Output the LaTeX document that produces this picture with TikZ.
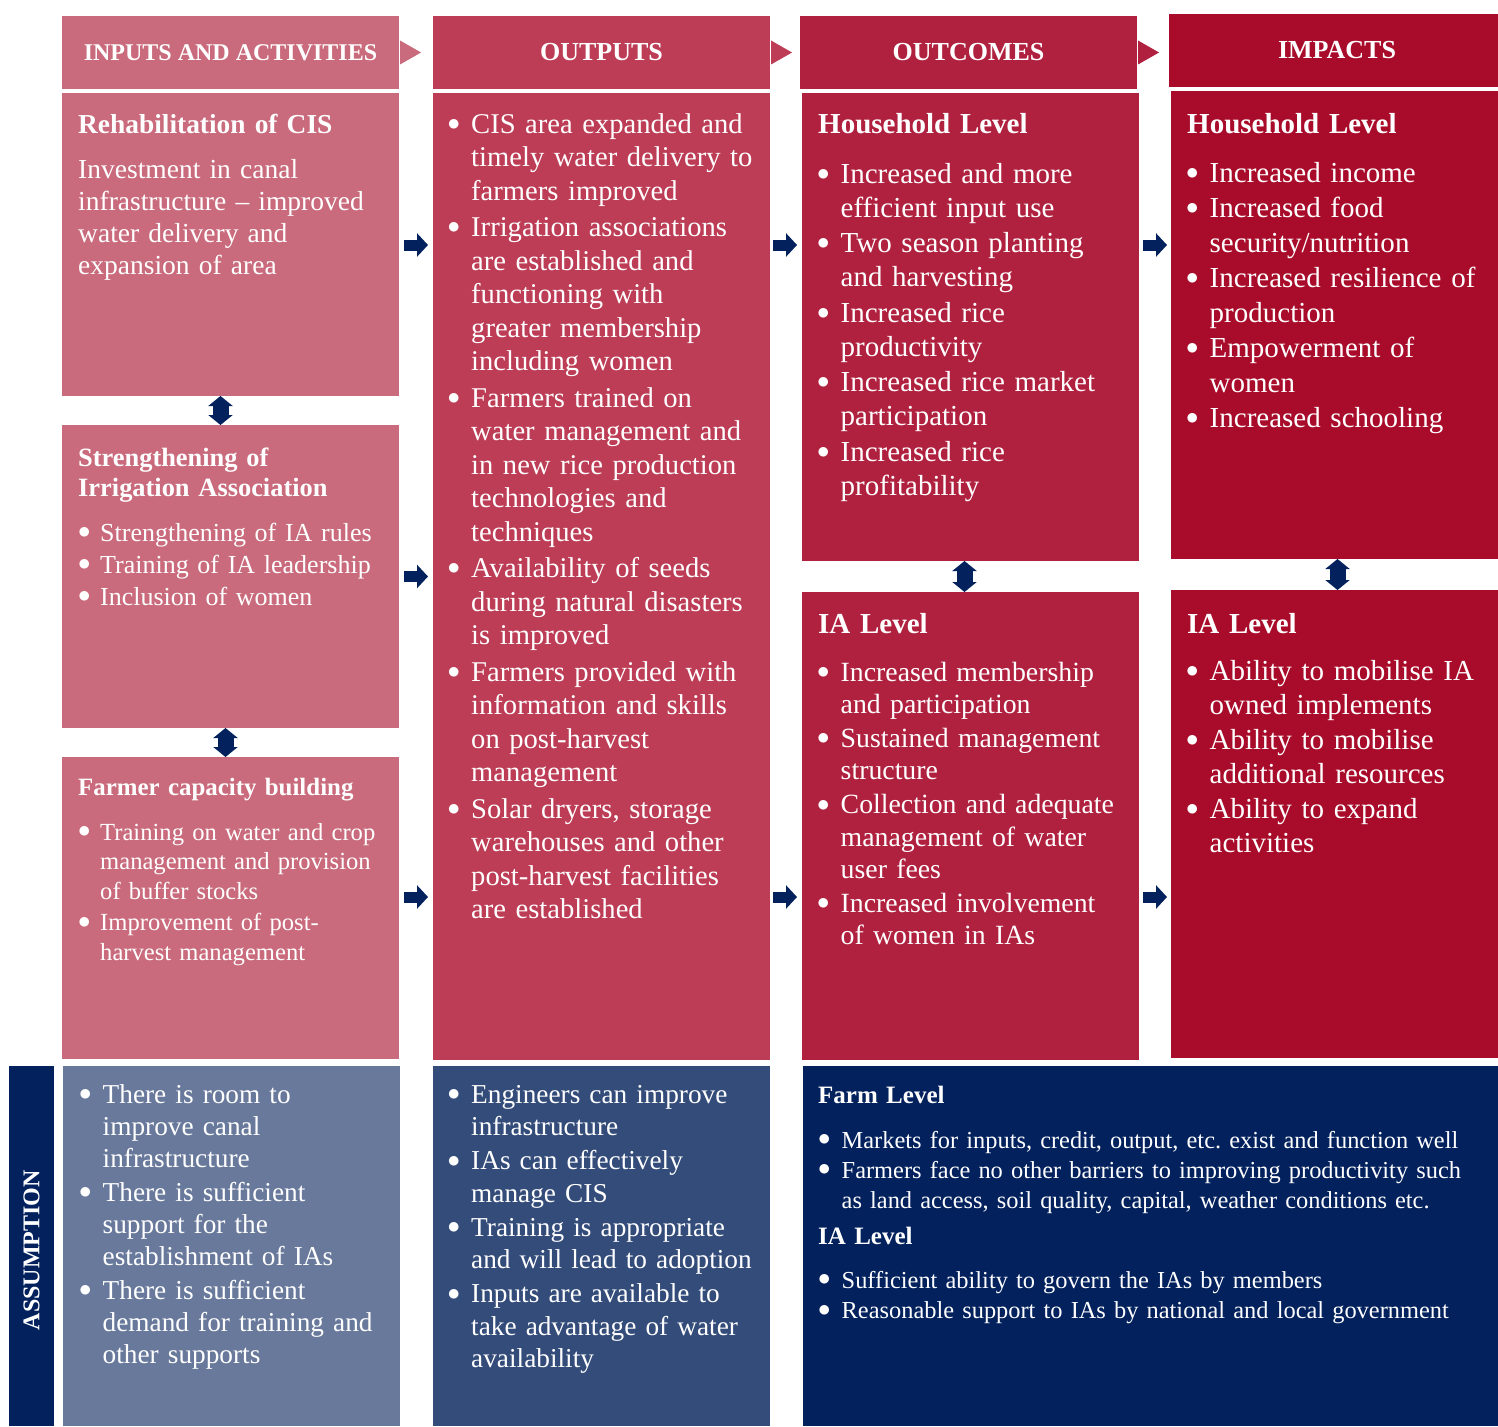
\documentclass[tikz,border=0pt]{standalone}
\usepackage{fontspec}
\setmainfont{Liberation Serif}
\usetikzlibrary{positioning,arrows.meta}

\definecolor{inrose}{RGB}{201,107,124}
\definecolor{outrose}{RGB}{188,61,85}
\definecolor{ocred}{RGB}{176,33,63}
\definecolor{imred}{RGB}{168,12,42}
\definecolor{navy}{RGB}{2,33,93}
\definecolor{asmone}{RGB}{104,121,155}
\definecolor{asmtwo}{RGB}{52,76,122}

\newlength{\bind}
\setlength{\bind}{23.5pt}
\newcommand{\bitem}[1]{\hangindent=\bind\hangafter=1\makebox[\bind][l]{\raisebox{0.09em}{$\bullet$}}#1\par}
\newcommand{\fsz}[2]{\fontsize{#1}{#2}\selectfont}
\frenchspacing

\begin{document}
\begin{tikzpicture}[x=1pt, y=-1pt, node distance=29pt]
\tikzstyle{colbox} = [rectangle, inner sep=0pt, outer sep=0pt, anchor=north west, minimum width=337pt]
\tikzstyle{hdr} = [colbox, minimum height=73pt, text=white, font=\bfseries\fsz{26}{30}]
\tikzstyle{lvlhead} = [anchor=base west, inner sep=0pt, text=white, align=left, text width=340pt, font=\bfseries\fsz{29}{33}]
\tikzstyle{bodytxt} = [anchor=base west, inner sep=0pt, text=white, align=left, text width=340pt]
\tikzstyle{rarrow} = [navy, line width=11pt, -{Triangle[width=23pt,length=11pt]}]
\tikzstyle{darrow} = [navy, line width=16pt, {Triangle[width=24pt,length=10pt]}-{Triangle[width=24pt,length=10pt]}]
\useasboundingbox (0,0) rectangle (1498,1426);

% column headers
\node (inhdr) [hdr, fill=inrose, font=\bfseries\fsz{24}{28}] at (62,16) {INPUTS AND ACTIVITIES};
\node (outhdr) [hdr, fill=outrose] at (433,16) {OUTPUTS};
\node (ochdr) [hdr, fill=ocred] at (800,16) {OUTCOMES};
\node (imhdr) [hdr, fill=imred, minimum width=329pt, text width=329pt, align=center] at (1169,14) {\hspace*{7pt}IMPACTS};
\fill[inrose] ([xshift=1pt]inhdr.east) ++(0,-12) -- ++(21,12) -- ++(-21,12) -- cycle;
\fill[outrose] ([xshift=1pt]outhdr.east) ++(0,-12) -- ++(21,12) -- ++(-21,12) -- cycle;
\fill[ocred] ([xshift=1pt]ochdr.east) ++(0,-12) -- ++(21,12) -- ++(-21,12) -- cycle;

% boxes
\node (rehab) [colbox, fill=inrose, minimum height=303pt] at (62,93) {};
\node (strength) [colbox, fill=inrose, minimum height=303pt, below=of rehab] {};
\node (farmer) [colbox, fill=inrose, minimum height=302pt, below=of strength] {};
\node (outputs) [colbox, fill=outrose, minimum height=967pt] at (433,93) {};
\node (hhout) [colbox, fill=ocred, minimum height=468pt] at (802,93) {};
\node (iaout) [colbox, fill=ocred, minimum height=468pt, below=31pt of hhout] {};
\node (hhimp) [colbox, fill=imred, minimum width=327pt, minimum height=468pt] at (1171,91) {};
\node (iaimp) [colbox, fill=imred, minimum width=327pt, minimum height=468pt, below=31pt of hhimp] {};
\node (asmlbl) [colbox, fill=navy, minimum width=45pt, minimum height=360pt] at (9,1066) {};
\node (asmin) [colbox, fill=asmone, minimum height=360pt] at (63,1066) {};
\node (asmout) [colbox, fill=asmtwo, minimum height=360pt] at (433,1066) {};
\node (asmoc) [colbox, fill=navy, minimum width=695pt, minimum height=360pt] at (803,1066) {};
\node (asmword) [rotate=90, text=white, font=\bfseries\fsz{24}{28}] at ([yshift=-4pt]asmlbl.center) {ASSUMPTION};

% inputs and activities
\node (rehabhd) [lvlhead, font=\bfseries\fsz{27.4}{32}] at ([shift={(16,40)}]rehab.north west) {Rehabilitation of CIS};
\node (rehabtx) [bodytxt, font=\fsz{27.5}{32}] at ([shift={(16,85)}]rehab.north west) {Investment in canal\newline infrastructure -- improved\newline water delivery and\newline expansion of area};
\node (strhd) [lvlhead, font=\bfseries\fsz{26.4}{30}] at ([shift={(16,41)}]strength.north west) {Strengthening of\\Irrigation Association};
\node (strlist) [bodytxt, font=\fsz{26}{32}] at ([shift={(16,116)}]strength.north west) {\setlength{\bind}{22pt}\bitem{Strengthening of IA rules}
\bitem{Training of IA leadership}
\bitem{Inclusion of women}};
\node (farmhd) [lvlhead, font=\bfseries\fsz{24.9}{29}] at ([shift={(16,38)}]farmer.north west) {Farmer capacity building};
\node (farmlist) [bodytxt, font=\fsz{24.6}{29.5}] at ([shift={(16,83)}]farmer.north west) {\parskip=2pt \setlength{\bind}{22pt}%
\bitem{Training on water and crop\newline management and provision\newline of buffer stocks}
\bitem{Improvement of post-\newline harvest management}};

% outputs
\node (outlist) [bodytxt, font=\fsz{28.6}{33.5}] at ([shift={(14.5,40)}]outputs.north west) {\parskip=3pt
\bitem{CIS area expanded and\newline timely water delivery to\newline farmers improved}
\bitem{Irrigation associations\newline are established and\newline functioning with\newline greater membership\newline including women}
\bitem{Farmers trained on\newline water management and\newline in new rice production\newline technologies and\newline techniques}
\bitem{Availability of seeds\newline during natural disasters\newline is improved}
\bitem{Farmers provided with\newline information and skills\newline on post-harvest\newline management}
\bitem{Solar dryers, storage\newline warehouses and other\newline post-harvest facilities\newline are established}};

% outcomes
\node (hhouthd) [lvlhead] at ([shift={(16,41)}]hhout.north west) {Household Level};
\node (hhoutlist) [bodytxt, font=\fsz{29}{34}] at ([shift={(15,90)}]hhout.north west) {\parskip=1.5pt
\bitem{Increased and more\newline efficient input use}
\bitem{Two season planting\newline and harvesting}
\bitem{Increased rice\newline productivity}
\bitem{Increased rice market\newline participation}
\bitem{Increased rice\newline profitability}};
\node (iaouthd) [lvlhead] at ([shift={(16,41)}]iaout.north west) {IA Level};
\node (iaoutlist) [bodytxt, font=\fsz{27.8}{32.2}] at ([shift={(15,89)}]iaout.north west) {\parskip=2pt
\bitem{Increased membership\newline and participation}
\bitem{Sustained management\newline structure}
\bitem{Collection and adequate\newline management of water\newline user fees}
\bitem{Increased involvement\newline of women in IAs}};

% impacts
\node (hhimphd) [lvlhead] at ([shift={(16,43)}]hhimp.north west) {Household Level};
\node (hhimplist) [bodytxt, font=\fsz{29}{34.5}] at ([shift={(15,91)}]hhimp.north west) {\parskip=1pt
\bitem{Increased income}
\bitem{Increased food\newline security/nutrition}
\bitem{Increased resilience of\newline production}
\bitem{Empowerment of\newline women}
\bitem{Increased schooling}};
\node (iaimphd) [lvlhead] at ([shift={(16,43)}]iaimp.north west) {IA Level};
\node (iaimplist) [bodytxt, font=\fsz{29}{34}] at ([shift={(15,90)}]iaimp.north west) {\parskip=1pt
\bitem{Ability to mobilise IA\newline owned implements}
\bitem{Ability to mobilise\newline additional resources}
\bitem{Ability to expand\newline activities}};

% assumptions
\node (asminlist) [bodytxt, font=\fsz{27.3}{32}] at ([shift={(16,37)}]asmin.north west) {\parskip=2pt
\bitem{There is room to\newline improve canal\newline infrastructure}
\bitem{There is sufficient\newline support for the\newline establishment of IAs}
\bitem{There is sufficient\newline demand for training and\newline other supports}};
\node (asmoutlist) [bodytxt, font=\fsz{27.3}{32.5}] at ([shift={(14.5,37)}]asmout.north west) {\parskip=1.5pt
\bitem{Engineers can improve\newline infrastructure}
\bitem{IAs can effectively\newline manage CIS}
\bitem{Training is appropriate\newline and will lead to adoption}
\bitem{Inputs are available to\newline take advantage of water\newline availability}};
\node (asmfarmhd) [lvlhead, font=\bfseries\fsz{25}{29}] at ([shift={(15,37)}]asmoc.north west) {Farm Level};
\node (asmfarmlist) [bodytxt, text width=680pt, font=\fsz{24.4}{30}] at ([shift={(15,82)}]asmoc.north west) {\bitem{Markets for inputs, credit, output, etc. exist and function well}
\bitem{Farmers face no other barriers to improving productivity such\newline as land access, soil quality, capital, weather conditions etc.}};
\node (asmiahd) [lvlhead, font=\bfseries\fsz{25}{29}] at ([shift={(15,178)}]asmoc.north west) {IA Level};
\node (asmialist) [bodytxt, text width=680pt, font=\fsz{24.4}{30.5}] at ([shift={(15,222)}]asmoc.north west) {\bitem{Sufficient ability to govern the IAs by members}
\bitem{Reasonable support to IAs by national and local government}};

% connectors
\coordinate (toprow) at (0,245);
\coordinate (lowrow) at (0,897);
\draw[rarrow, shorten <=5pt, shorten >=5pt] (rehab.east |- toprow) -- (outputs.west |- toprow);
\draw[rarrow, shorten <=5pt, shorten >=5pt] (strength.east) -- (outputs.west |- strength.east);
\draw[rarrow, shorten <=5pt, shorten >=5pt] (farmer.east |- lowrow) -- (outputs.west |- lowrow);
\draw[rarrow, shorten <=3pt, shorten >=5pt] (outputs.east |- toprow) -- (hhout.west |- toprow);
\draw[rarrow, shorten <=3pt, shorten >=5pt] (outputs.east |- lowrow) -- (iaout.west |- lowrow);
\draw[rarrow, shorten <=4pt, shorten >=4pt] (hhout.east |- toprow) -- (hhimp.west |- toprow);
\draw[rarrow, shorten <=4pt, shorten >=4pt] (iaout.east |- lowrow) -- (iaimp.west |- lowrow);
\draw[darrow] ([xshift=-10pt]rehab.south) -- ([xshift=-10pt]strength.north);
\draw[darrow] ([xshift=-5pt]strength.south) -- ([xshift=-5pt]farmer.north);
\draw[darrow] ([xshift=-6pt]hhout.south) -- ([xshift=-6pt]iaout.north);
\draw[darrow] ([xshift=3pt]hhimp.south) -- ([xshift=3pt]iaimp.north);
\end{tikzpicture}
\end{document}
